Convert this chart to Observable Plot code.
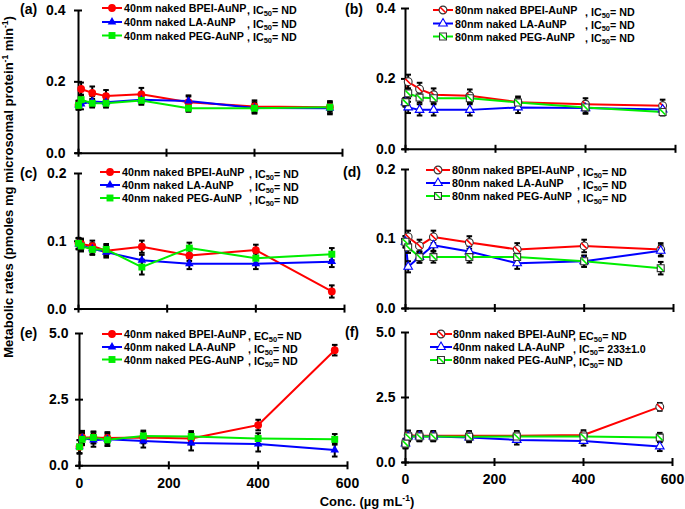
<!DOCTYPE html>
<html><head><meta charset="utf-8">
<script src="https://cdn.jsdelivr.net/npm/d3@7"></script>
<script src="https://cdn.jsdelivr.net/npm/@observablehq/plot@0.6"></script>
<style>
body{margin:0;background:#fff;}
#chart{position:relative;width:685px;height:509px;overflow:hidden;font-family:"Liberation Sans",Arial,sans-serif;background:#fff;}
#chart svg{position:absolute;overflow:visible;}
</style></head><body><div id="chart"></div>
<script>
// ---------- data ----------
const conc = [0, 6, 31.25, 62.5, 142.9, 250, 400, 571.4];
const xTicks = [0, 200, 400, 600];

// (a) 40 nm, panel 1
const aBPEI = [0.135, 0.180, 0.169, 0.160, 0.165, 0.143, 0.131, 0.129];
const aLA   = [0.135, 0.138, 0.145, 0.143, 0.150, 0.146, 0.127, 0.126];
const aPEG  = [0.134, 0.150, 0.140, 0.140, 0.148, 0.126, 0.126, 0.129];
const aBPEIerr = [0.012, 0.018, 0.018, 0.017, 0.018, 0.016, 0.017, 0.017];
const aLAerr   = [0.012, 0.015, 0.015, 0.014, 0.013, 0.016, 0.016, 0.017];
const aPEGerr  = [0.012, 0.014, 0.012, 0.012, 0.012, 0.010, 0.012, 0.012];
// (b) 80 nm, panel 1
const bBPEI = [0.134, 0.192, 0.171, 0.155, 0.152, 0.134, 0.128, 0.124];
const bLA   = [0.134, 0.119, 0.112, 0.112, 0.112, 0.119, 0.117, 0.113];
const bPEG  = [0.134, 0.159, 0.147, 0.145, 0.145, 0.133, 0.119, 0.106];
const bBPEIerr = [0.012, 0.020, 0.018, 0.018, 0.018, 0.016, 0.017, 0.017];
const bLAerr   = [0.012, 0.016, 0.016, 0.016, 0.016, 0.016, 0.016, 0.014];
const bPEGerr  = [0.012, 0.014, 0.014, 0.014, 0.014, 0.014, 0.016, 0.010];
// (c) 40 nm, panel 2
const cBPEI = [0.097, 0.096, 0.093, 0.086, 0.092, 0.079, 0.087, 0.026];
const cLA   = [0.096, 0.094, 0.089, 0.084, 0.072, 0.067, 0.067, 0.070];
const cPEG  = [0.097, 0.093, 0.088, 0.088, 0.062, 0.090, 0.075, 0.081];
const cBPEIerr = [0.008, 0.008, 0.008, 0.008, 0.009, 0.008, 0.008, 0.009];
const cLAerr   = [0.008, 0.008, 0.008, 0.008, 0.008, 0.008, 0.008, 0.008];
const cPEGerr  = [0.008, 0.008, 0.008, 0.008, 0.011, 0.008, 0.008, 0.009];
// (d) 80 nm, panel 2
const dBPEI = [0.096, 0.103, 0.090, 0.103, 0.095, 0.085, 0.090, 0.085];
const dLA   = [0.096, 0.060, 0.074, 0.091, 0.082, 0.065, 0.068, 0.083];
const dPEG  = [0.096, 0.088, 0.074, 0.074, 0.074, 0.074, 0.068, 0.058];
const dBPEIerr = [0.008, 0.009, 0.009, 0.009, 0.009, 0.009, 0.009, 0.009];
const dLAerr   = [0.008, 0.008, 0.008, 0.008, 0.008, 0.008, 0.008, 0.008];
const dPEGerr  = [0.008, 0.008, 0.008, 0.008, 0.008, 0.008, 0.008, 0.009];
// (e) 40 nm, panel 3
const eBPEI = [0.72, 1.07, 1.07, 1.05, 1.07, 1.03, 1.54, 4.37];
const eLA   = [0.72, 1.05, 0.97, 1.00, 0.94, 0.86, 0.82, 0.60];
const ePEG  = [0.72, 1.00, 1.07, 0.98, 1.13, 1.11, 1.03, 1.00];
const eBPEIerr = [0.25, 0.25, 0.22, 0.22, 0.22, 0.22, 0.20, 0.20];
const eLAerr   = [0.25, 0.22, 0.25, 0.25, 0.25, 0.28, 0.28, 0.25];
const ePEGerr  = [0.25, 0.22, 0.22, 0.22, 0.20, 0.20, 0.20, 0.20];
// (f) 80 nm, panel 3
const fBPEI = [0.73, 1.05, 1.03, 1.03, 1.03, 1.03, 1.06, 2.14];
const fLA   = [0.73, 1.00, 1.00, 1.00, 0.96, 0.87, 0.83, 0.62];
const fPEG  = [0.73, 1.00, 1.00, 1.00, 0.99, 1.00, 1.00, 0.96];
const fBPEIerr = [0.18, 0.18, 0.18, 0.18, 0.18, 0.18, 0.18, 0.15];
const fLAerr   = [0.18, 0.18, 0.18, 0.18, 0.18, 0.18, 0.18, 0.18];
const fPEGerr  = [0.18, 0.18, 0.18, 0.18, 0.18, 0.18, 0.18, 0.18];

// legend texts
const legend40 = ["40nm naked BPEI-AuNP", "40nm naked LA-AuNP", "40nm naked PEG-AuNP"];
const legend80 = ["80nm naked BPEI-AuNP", "80nm naked LA-AuNP", "80nm naked PEG-AuNP"];
const legendF  = ["80nm naked BPEI-AuNP", "40nm naked LA-AuNP", "80nm naked PEG-AuNP"];
const suffixND   = [[", IC", "50", "= ND"], [", IC", "50", "= ND"], [", IC", "50", "= ND"]];
const suffixE    = [[", EC", "50", "= ND"], [", IC", "50", "= ND"], [", IC", "50", "= ND"]];
const suffixF    = [[", EC", "50", "= ND"], [", IC", "50", "= 233±1.0"], [", IC", "50", "= ND"]];
const panelLabels = ["(a)", "(b)", "(c)", "(d)", "(e)", "(f)"];
const yTitle = ["Metabolic rates (pmoles mg microsomal protein", "-1", " min", "-1", ")"];
const xTitle = ["Conc. (µg mL", "-1", ")"];

// ---------- style ----------
const colors = ["#ff0000", "#0000ff", "#00ee00"];
const symbols = ["circle", "triangle", "square"];
const FONT = "'Liberation Sans', Arial, sans-serif";

const symSlash = {draw(ctx, size){ const r = Math.sqrt(size/Math.PI)*0.72; ctx.moveTo(-r,-r); ctx.lineTo(r,r); }};
const symCap = {draw(ctx, size){ const r = Math.sqrt(size/Math.PI); ctx.moveTo(-r,0); ctx.lineTo(r,0); }};

const panels = [
  {vals:[aBPEI,aLA,aPEG], errs:[aBPEIerr,aLAerr,aPEGerr], open:false, x0:78, x600:342, yTop:10, yBot:152.7, ydom:[0,0.4], yticks:[0,0.2,0.4], pad:13, xlab:false,
   leg:{names:legend40, suf:suffixND, l1:102, l2:122, tx:124, sx:247, rows:[8,22,35.5]}, lab:{x:20, y:14}},
  {vals:[bBPEI,bLA,bPEG], errs:[bBPEIerr,bLAerr,bPEGerr], open:true, x0:405, x600:675, yTop:7.5, yBot:148.3, ydom:[0,0.4], yticks:[0,0.2,0.4], pad:10, xlab:false,
   leg:{names:legend80, suf:suffixND, l1:433, l2:453, tx:455, sx:585, rows:[10,23.5,36.5]}, lab:{x:345, y:14}},
  {vals:[cBPEI,cLA,cPEG], errs:[cBPEIerr,cLAerr,cPEGerr], open:false, x0:78, x600:344, yTop:172.7, yBot:308.3, ydom:[0,0.2], yticks:[0,0.1,0.2], pad:12, xlab:false,
   leg:{names:legend40, suf:suffixND, l1:100, l2:120, tx:122, sx:249, rows:[172,185,198]}, lab:{x:20, y:178}},
  {vals:[dBPEI,dLA,dPEG], errs:[dBPEIerr,dLAerr,dPEGerr], open:true, x0:405, x600:673, yTop:169.3, yBot:308.3, ydom:[0,0.2], yticks:[0,0.1,0.2], pad:10, xlab:false,
   leg:{names:legend80, suf:suffixND, l1:426, l2:450, tx:452, sx:577, rows:[170,183,196]}, lab:{x:343, y:177}},
  {vals:[eBPEI,eLA,ePEG], errs:[eBPEIerr,eLAerr,ePEGerr], open:false, x0:79, x600:347, yTop:332.7, yBot:465, ydom:[0,5], yticks:[0,2.5,5], pad:11, xlab:true,
   leg:{names:legend40, suf:suffixE, l1:102, l2:122, tx:124, sx:248, rows:[334,347,359.5]}, lab:{x:20, y:338}},
  {vals:[fBPEI,fLA,fPEG], errs:[fBPEIerr,fLAerr,fPEGerr], open:true, x0:405, x600:672, yTop:331.7, yBot:461.7, ydom:[0,5], yticks:[0,2.5,5], pad:10, xlab:true,
   leg:{names:legendF, suf:suffixF, l1:430, l2:452, tx:453, sx:573, rows:[334,347,360]}, lab:{x:345, y:337}}
];

const chart = document.getElementById("chart");

function buildPanel(p) {
  const mL = 70, mR = 12, mT = 10, mB = 30;
  const w = p.x600 - p.x0 + mL + mR;
  const h = p.yBot - p.yTop + mT + mB;
  const rowsBy = p.vals.map((v, s) => conc.map((x, i) => ({x, y: v[i], e: p.errs[s][i]})));
  const marks = [];
  marks.push(Plot.ruleY([0], {stroke: "black", strokeWidth: 2, insetLeft: -3}));
  marks.push(Plot.ruleX([0], {stroke: "black", strokeWidth: 2}));
  // cross ticks (no text)
  marks.push(Plot.axisY(p.yticks, {tickSize: 8, dx: 4, strokeWidth: 2, stroke: "black", fill: "none", label: null}));
  // tick text
  marks.push(Plot.axisY(p.yticks, {tickSize: 0, tickPadding: p.pad, tickFormat: d3.format(".1f"), fill: "black", fontSize: 14, fontWeight: "bold", label: null}));
  marks.push(Plot.axisX(xTicks, {tickSize: 8, dy: -4, strokeWidth: 2, stroke: "black", fill: "none", label: null}));
  if (p.xlab) marks.push(Plot.axisX(xTicks, {tickSize: 0, tickPadding: 12, fill: "black", fontSize: 14, fontWeight: "bold", label: null}));
  rowsBy.forEach((rows, s) => marks.push(Plot.line(rows, {x: "x", y: "y", stroke: colors[s], strokeWidth: 2})));
  rowsBy.forEach(rows => {
    marks.push(Plot.ruleX(rows, {x: "x", y1: d => d.y - d.e, y2: d => d.y + d.e, stroke: "black", strokeWidth: 2}));
    marks.push(Plot.dot(rows, {x: "x", y: d => d.y + d.e, r: 2.8, symbol: symCap, stroke: "black", strokeWidth: 2, fill: "none"}));
    marks.push(Plot.dot(rows, {x: "x", y: d => d.y - d.e, r: 2.8, symbol: symCap, stroke: "black", strokeWidth: 2, fill: "none"}));
  });
  rowsBy.forEach((rows, s) => {
    const r = s === 1 ? 3.2 : 3.9;
    if (!p.open) {
      marks.push(Plot.dot(rows, {x: "x", y: "y", r, symbol: symbols[s], fill: colors[s], stroke: "none"}));
    } else {
      marks.push(Plot.dot(rows, {x: "x", y: "y", r, symbol: symbols[s], fill: "white", stroke: s === 1 ? colors[s] : "#333", strokeWidth: 1.1}));
      if (s !== 1) marks.push(Plot.dot(rows, {x: "x", y: "y", r, symbol: symSlash, fill: "none", stroke: colors[s], strokeWidth: 1.6}));
    }
  });
  const svg = Plot.plot({
    width: w, height: h, marginLeft: mL, marginRight: mR, marginTop: mT, marginBottom: mB,
    x: {domain: [0, 600], axis: null, label: null},
    y: {domain: p.ydom, axis: null, label: null},
    style: {fontFamily: FONT, fontSize: "14px", fontWeight: "bold", background: "transparent", overflow: "visible", color: "black"},
    marks
  });
  svg.style.left = (p.x0 - mL) + "px";
  svg.style.top = (p.yTop - mT) + "px";
  chart.appendChild(svg);
}
panels.forEach(buildPanel);

// ---------- overlay: legends, panel labels, titles ----------
const ov = d3.create("svg").attr("width", 685).attr("height", 509)
  .style("left", "0px").style("top", "0px").style("pointer-events", "none")
  .attr("font-family", FONT).attr("font-weight", "bold").attr("fill", "black");

function marker(g, s, open, cx, cy) {
  const r = s === 1 ? 3.2 : 3.9;
  const type = [d3.symbolCircle, d3.symbolTriangle, d3.symbolSquare][s];
  const path = d3.symbol().type(type).size(Math.PI * r * r)();
  const m = g.append("path").attr("d", path).attr("transform", `translate(${cx},${cy})`);
  if (!open) m.attr("fill", colors[s]);
  else {
    m.attr("fill", "white").attr("stroke", s === 1 ? colors[s] : "#333").attr("stroke-width", 1.1);
    if (s !== 1) {
      const k = r * 0.72;
      g.append("line").attr("x1", cx - k).attr("y1", cy - k).attr("x2", cx + k).attr("y2", cy + k)
        .attr("stroke", colors[s]).attr("stroke-width", 1.6);
    }
  }
}

panels.forEach((p, i) => {
  const L = p.leg;
  L.rows.forEach((y, s) => {
    ov.append("line").attr("x1", L.l1).attr("x2", L.l2).attr("y1", y).attr("y2", y)
      .attr("stroke", colors[s]).attr("stroke-width", 2);
    marker(ov, s, p.open, (L.l1 + L.l2) / 2, y);
    ov.append("text").attr("x", L.tx).attr("y", y + 4).attr("font-size", 10.7).text(L.names[s]);
    const t = ov.append("text").attr("x", L.sx).attr("y", y + 5.5).attr("font-size", 10.7);
    const [pre, sub, post] = L.suf[s];
    t.append("tspan").text(pre);
    t.append("tspan").attr("font-size", 7.5).attr("dy", 2).text(sub);
    t.append("tspan").attr("dy", -2).text(post);
  });
  ov.append("text").attr("x", p.lab.x).attr("y", p.lab.y).attr("font-size", 14).text(panelLabels[i]);
});

// y title
const yt = ov.append("text").attr("transform", "translate(12.5,187) rotate(-90)")
  .attr("text-anchor", "middle").attr("font-size", 13);
yt.append("tspan").text(yTitle[0]);
yt.append("tspan").attr("font-size", 8.5).attr("dy", -5).text(yTitle[1]);
yt.append("tspan").attr("dy", 5).text(yTitle[2]);
yt.append("tspan").attr("font-size", 8.5).attr("dy", -5).text(yTitle[3]);
yt.append("tspan").attr("dy", 5).text(yTitle[4]);

// x title
const xt = ov.append("text").attr("x", 367).attr("y", 506).attr("text-anchor", "middle").attr("font-size", 13);
xt.append("tspan").text(xTitle[0]);
xt.append("tspan").attr("font-size", 8.5).attr("dy", -5).text(xTitle[1]);
xt.append("tspan").attr("dy", 5).text(xTitle[2]);

chart.appendChild(ov.node());
</script>
</body></html>
